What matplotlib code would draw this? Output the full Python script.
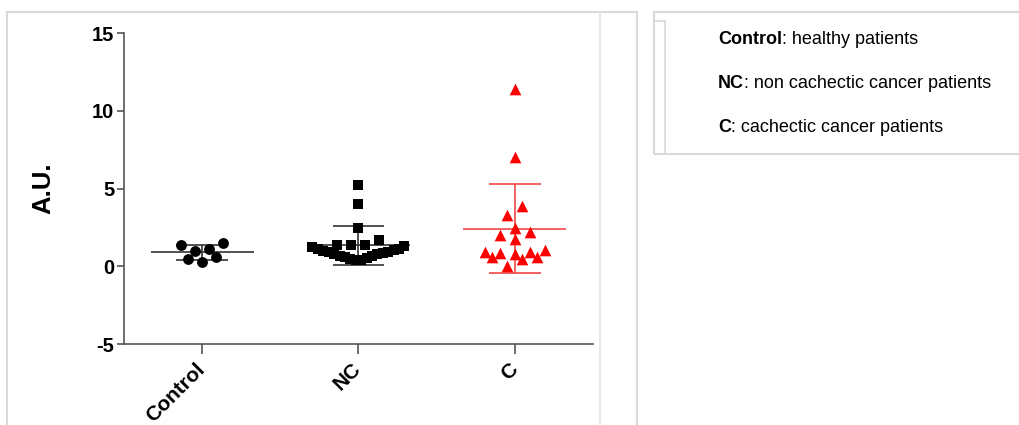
import numpy as np
import matplotlib
matplotlib.use('Agg')
import matplotlib.pyplot as plt
import matplotlib.transforms as mtransforms
from matplotlib.patches import Rectangle
from matplotlib.lines import Line2D

plt.rcParams['font.family'] = ['Liberation Sans', 'DejaVu Sans']
plt.rcParams['axes.unicode_minus'] = False

# data
categories = ['Control', 'NC', 'C']
control = [1.14, 1.52, 1.37, 1.01, 0.62, 0.28, 0.51]
nc = [5.25, 4.03, 2.44, 1.72, 1.40, 1.35, 1.40,
      0.39, 0.44, 0.50, 0.54, 0.61, 0.66, 0.70, 0.77, 0.81,
      0.86, 0.92, 0.95, 1.01, 1.04, 1.10, 1.14, 1.22, 1.29]
c = [11.43, 7.01, 3.86, 3.31, 2.47, 2.23, 2.04, 1.76, 0.96, 0.96,
     1.03, 0.84, 0.80, 0.62, 0.51, 0.64, 0.04]
means = [0.90, 1.35, 2.43]
sds = [0.46, 1.25, 2.88]
legend_keys = ['Control', 'NC', 'C']
legend_desc = [': healthy patients', ': non cachectic cancer patients',
               ': cachectic cancer patients']

groups = [control, nc, c]
markers = ['o', 's', '^']
msize = [7.8, 7.0, 8.4]
colors = ['black', 'black', '#ff0000']
bar_colors = ['#333333', '#333333', '#f04848']
row_h = [0.64, 0.95, 0.64]   # row height for the dot layout (data units)
spread = [14.0, 14.0, 15.0]  # max gap between neighbours in a row (pixels)

W, H = 1020, 425
fig = plt.figure(figsize=(W / 100, H / 100), dpi=100)
ax = fig.add_axes([124 / W, 1 - 344.3 / H, (593 - 124) / W, (344.3 - 33) / H])
ax.set_xlim(-0.5, 2.5)
ax.set_ylim(-5, 15)

px_per_x = (593 - 124) / 3.0


def row_layout(vals, h, s_max=14.0, half_w=46.0):
    # groups close values into rows and spreads each row sideways (pixels)
    order = np.argsort(vals, kind='stable')
    offs = np.zeros(len(vals))
    rows = []
    for i in order:
        if rows and vals[i] - vals[rows[-1][0]] <= h:
            rows[-1].append(i)
        else:
            rows.append([i])
    for row in rows:
        n = len(row)
        if n == 1:
            continue
        s = min(s_max, 2 * half_w / (n - 1))
        slots = [(k - (n - 1) / 2.0) * s for k in range(n)]
        slots = sorted(slots, key=lambda x: (abs(x), x))
        for idx, pos in zip(row, slots):
            offs[idx] = pos
    return offs


for g, vals in enumerate(groups):
    vals = np.array(vals)
    xo = row_layout(vals, row_h[g], spread[g]) / px_per_x
    m, sd, bc = means[g], sds[g], bar_colors[g]
    ax.hlines(m, g - 0.33, g + 0.33, color=bc, lw=1.2, zorder=2)
    ax.hlines([m - sd, m + sd], g - 0.165, g + 0.165, color=bc, lw=1.2, zorder=2)
    ax.vlines(g, m - sd, m + sd, color=bc, lw=1.2, zorder=2)
    ax.scatter(g + xo, vals, marker=markers[g], s=msize[g] ** 2,
               color=colors[g], linewidths=0, zorder=3)

for sp in ['top', 'right']:
    ax.spines[sp].set_visible(False)
for sp in ['left', 'bottom']:
    ax.spines[sp].set_color('#555555')
    ax.spines[sp].set_linewidth(1.2)

ax.set_yticks([-5, 0, 5, 10, 15])
ax.set_xticks(range(len(categories)))
ax.set_xticklabels(categories, rotation=45, ha='right', va='top',
                   rotation_mode='anchor', fontsize=15, fontweight='bold')
ax.tick_params(axis='y', length=5, width=1.2, color='#555555', pad=2,
               labelsize=14.5)
ax.tick_params(axis='x', length=7, width=1.2, color='#555555', pad=4)
shift = mtransforms.ScaledTranslation(-5 / 72, 0, fig.dpi_scale_trans)
for lab in ax.get_xticklabels():
    lab.set_transform(lab.get_transform() + shift)
for lab in ax.get_yticklabels():
    lab.set_fontweight('bold')
ax.set_ylabel('A.U.', fontsize=18.5, fontweight='bold', labelpad=26)

# panel frames
fr = '#d9d9d9'
fig.add_artist(Rectangle((7 / W, -0.1), (637 - 7) / W, 1.1 - 12 / H,
                         transform=fig.transFigure, fill=False, ec=fr, lw=1.5))
fig.add_artist(Line2D([600 / W, 600 / W], [0, 1 - 12 / H],
                      transform=fig.transFigure, color='#e3e3e3', lw=1.2))
fig.add_artist(Rectangle((654 / W, 1 - 154 / H), 0.5, (154 - 12) / H,
                         transform=fig.transFigure, fill=False, ec=fr, lw=1.5))
fig.add_artist(Line2D([665 / W, 665 / W], [1 - 154 / H, 1 - 21 / H],
                      transform=fig.transFigure, color=fr, lw=1.2))
fig.add_artist(Line2D([654 / W, 665 / W], [1 - 21 / H, 1 - 21 / H],
                      transform=fig.transFigure, color=fr, lw=1.2))

for i, (k, d) in enumerate(zip(legend_keys, legend_desc)):
    y = 1 - (40 + 44 * i) / H
    t = fig.text(718 / W, y, k, fontsize=13, fontweight='bold',
                 va='center', ha='left')
    ax.annotate(d, xy=(1, 0), xycoords=t, va='bottom', ha='left',
                fontsize=13, annotation_clip=False)

fig.savefig('out.png', dpi=100)
